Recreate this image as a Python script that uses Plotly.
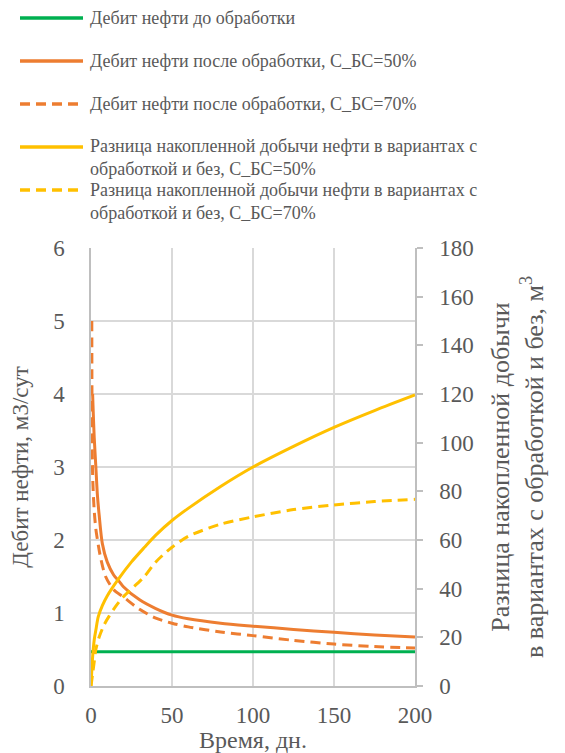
import plotly.graph_objects as go

# ---- data ----
t_base = [0, 200]
q_base = [0.47, 0.47]

t_q50 = [1, 2, 3, 4, 5, 7, 10, 14, 17.5, 20, 30, 40, 50, 60, 80, 100, 125, 150, 175, 200]
q50 = [4.0, 3.4, 3.0, 2.6, 2.35, 1.95, 1.7, 1.52, 1.43, 1.36, 1.18, 1.06, 0.97, 0.92, 0.86, 0.82, 0.775, 0.735, 0.70, 0.67]

t_q70 = [0.5, 1, 2, 3, 4, 6, 9, 14, 20, 30, 40, 50, 60, 80, 100, 125, 150, 175, 200]
q70 = [5.0, 2.9, 2.4, 2.15, 2.0, 1.75, 1.5, 1.32, 1.22, 1.05, 0.93, 0.86, 0.81, 0.74, 0.69, 0.625, 0.575, 0.54, 0.52]

t_d50 = [0, 1, 2, 3, 4.5, 7, 10, 17, 25, 33, 40, 50, 60, 80, 100, 125, 150, 175, 200]
d50 = [0, 12, 19, 23, 28.5, 33, 37, 44, 51, 57, 62, 68, 73, 82, 90, 98.5, 106.3, 113.2, 119.6]

t_d70 = [0, 1, 2, 3, 5, 8, 11, 15, 20, 33, 40, 50, 60, 80, 100, 125, 150, 175, 200]
d70 = [0, 5, 10, 15, 20, 25, 28.5, 32.5, 36.7, 45, 51, 57, 61.5, 66.5, 69.5, 72.5, 74.4, 75.8, 76.7]

names = [
    "Дебит нефти до обработки",
    "Дебит нефти после обработки, С_БС=50%",
    "Дебит нефти после обработки, С_БС=70%",
    "Разница накопленной добычи нефти в вариантах с<br>обработкой и без, С_БС=50%",
    "Разница накопленной добычи нефти в вариантах с<br>обработкой и без, С_БС=70%",
]

GREEN = "#00b050"
ORANGE = "#ed7d31"
YELLOW = "#ffc000"
GRAY = "#595959"
GRID = "#d9d9d9"
FONT = "Liberation Serif"
DASH = "10px,6px"

fig = go.Figure()
fig.add_trace(go.Scatter(x=t_base, y=q_base, mode="lines", line=dict(color=GREEN, width=3), name=names[0]))
fig.add_trace(go.Scatter(x=t_q50, y=q50, mode="lines", line=dict(color=ORANGE, width=3, shape="spline", smoothing=0.8), name=names[1]))
fig.add_trace(go.Scatter(x=t_q70, y=q70, mode="lines", line=dict(color=ORANGE, width=3, dash=DASH, shape="spline", smoothing=0.8), name=names[2]))
fig.add_trace(go.Scatter(x=t_d50, y=d50, mode="lines", line=dict(color=YELLOW, width=3, shape="spline", smoothing=0.8), name=names[3], yaxis="y2"))
fig.add_trace(go.Scatter(x=t_d70, y=d70, mode="lines", line=dict(color=YELLOW, width=3, dash=DASH, shape="spline", smoothing=0.8), name=names[4], yaxis="y2"))

# ---- manual legend (paper coords) ----
L, R, T, B = 91, 150, 248, 67
W, H = 565 - L - R, 753 - T - B

def px2x(px):
    return (px - L) / W

def py2y(py):
    return (753 - B - py) / H

leg_rows = [18, 61, 104, 147, 190]
leg_text_y = [18, 61, 104, 157.5, 201.5]
leg_colors = [GREEN, ORANGE, ORANGE, YELLOW, YELLOW]
leg_dash = ["solid", "solid", DASH, "solid", DASH]
for i in range(5):
    fig.add_shape(type="line", xref="paper", yref="paper",
                  x0=px2x(20), x1=px2x(83), y0=py2y(leg_rows[i]), y1=py2y(leg_rows[i]),
                  line=dict(color=leg_colors[i], width=3.5, dash=leg_dash[i]))
    fig.add_annotation(xref="paper", yref="paper", x=px2x(88), y=py2y(leg_text_y[i]),
                       xanchor="left", yanchor="middle", align="left", showarrow=False,
                       text=names[i], font=dict(family=FONT, size=18, color=GRAY))

fig.update_layout(
    width=565, height=753,
    margin=dict(l=L, r=R, t=T, b=B),
    paper_bgcolor="white", plot_bgcolor="white",
    showlegend=False, hovermode=False,
    xaxis=dict(range=[0, 200], tickvals=[0, 50, 100, 150, 200], showgrid=True, gridcolor=GRID, gridwidth=1.5,
               showline=True, linecolor="#bfbfbf", linewidth=1.5, zeroline=False, automargin=False,
               ticks="outside", ticklen=8, tickcolor="rgba(0,0,0,0)",
               tickfont=dict(family=FONT, size=23, color=GRAY),
               title=dict(text="Время, дн.", font=dict(family=FONT, size=24, color=GRAY), standoff=2)),
    yaxis=dict(range=[0, 6], tickvals=[0, 1, 2, 3, 4, 5, 6], showgrid=True, gridcolor=GRID, gridwidth=1.5,
               showline=True, linecolor="#bfbfbf", linewidth=1.5, zeroline=False, automargin=False,
               ticks="outside", ticklen=20, tickcolor="rgba(0,0,0,0)",
               tickfont=dict(family=FONT, size=23, color=GRAY),
               title=dict(text="Дебит нефти, м3/сут", font=dict(family=FONT, size=23, color=GRAY), standoff=18)),
    yaxis2=dict(range=[0, 180], tickvals=list(range(0, 181, 20)), overlaying="y", side="right",
                showgrid=False, showline=True, linecolor="#bfbfbf", linewidth=1.5, zeroline=False, automargin=False,
                ticks="outside", ticklen=6, tickcolor="#bfbfbf", tickwidth=1.5,
                tickfont=dict(family=FONT, size=23, color=GRAY), ticklabelstandoff=12,
                title=dict(text="Разница накопленной добычи<br>в вариантах с обработкой и без, м<sup>3</sup>",
                           font=dict(family=FONT, size=26, color=GRAY), standoff=18)),
)

fig.write_html("out.html")
